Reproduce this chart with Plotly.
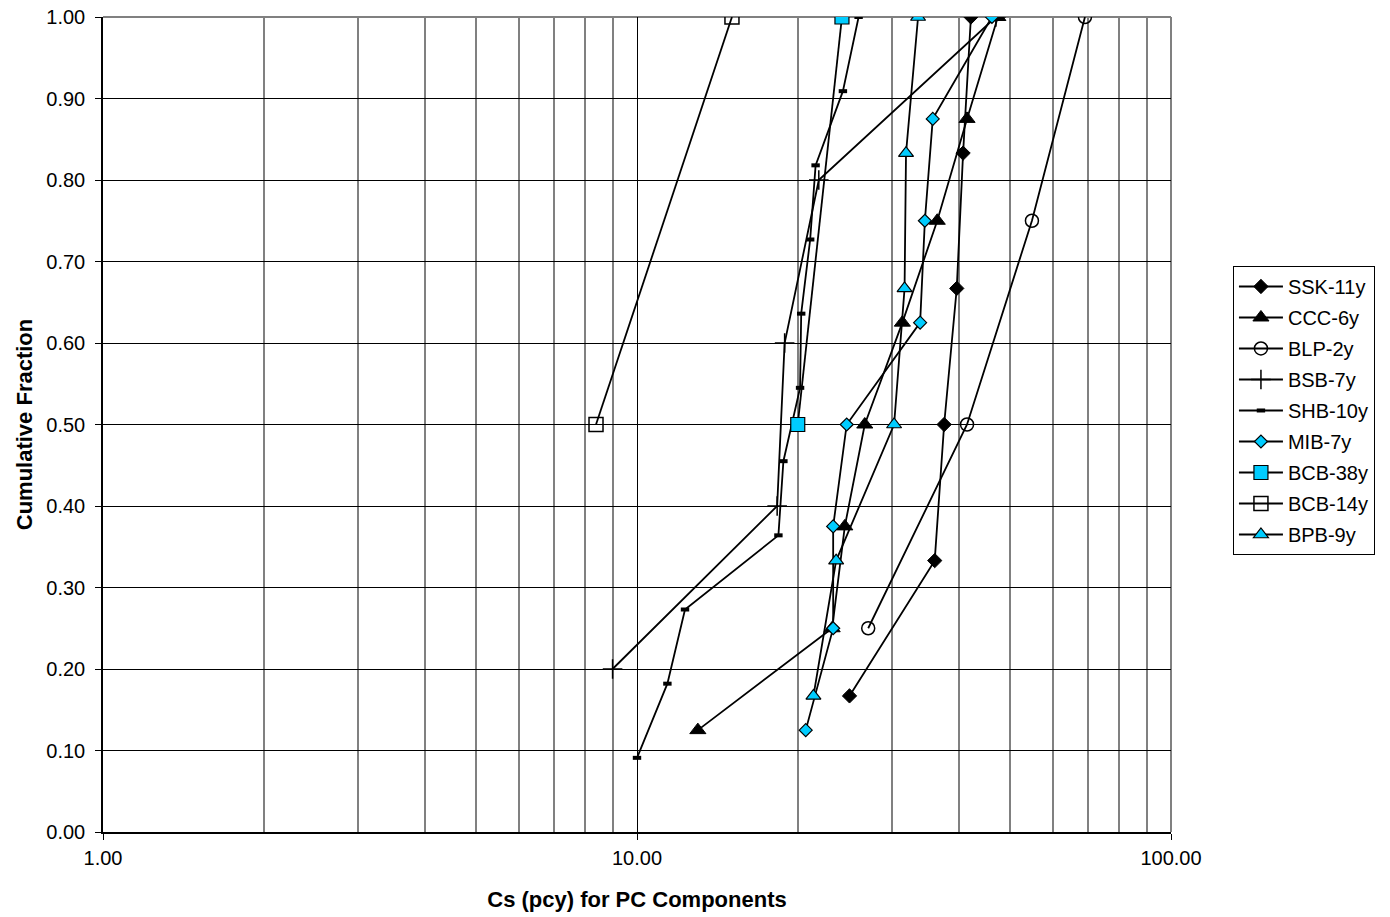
import plotly.graph_objects as go

# ---- data ----
ssk_x = [25.0, 36.1, 37.6, 39.7, 40.8, 42.2]
ssk_y = [0.167, 0.333, 0.500, 0.667, 0.833, 1.000]

ccc_x = [13.0, 23.2, 24.5, 26.7, 31.4, 36.5, 41.5, 47.4]
ccc_y = [0.125, 0.250, 0.375, 0.500, 0.625, 0.750, 0.875, 1.000]

blp_x = [27.1, 41.5, 54.9, 69.0]
blp_y = [0.25, 0.50, 0.75, 1.00]

bsb_x = [9.0, 18.3, 18.9, 21.9, 47.0]
bsb_y = [0.2, 0.4, 0.6, 0.8, 1.0]

shb_x = [10.0, 11.4, 12.3, 18.4, 18.8, 20.2, 20.3, 21.1, 21.6, 24.3, 26.0]
shb_y = [0.091, 0.182, 0.273, 0.364, 0.455, 0.545, 0.636, 0.727, 0.818, 0.909, 1.000]

mib_x = [20.7, 23.3, 23.3, 24.7, 33.9, 34.6, 35.8, 46.2]
mib_y = [0.125, 0.250, 0.375, 0.500, 0.625, 0.750, 0.875, 1.000]

bcb38_x = [20.0, 24.2]
bcb38_y = [0.5, 1.0]

bcb14_x = [8.38, 15.06]
bcb14_y = [0.5, 1.0]

bpb_x = [21.4, 23.6, 30.3, 31.7, 31.9, 33.6]
bpb_y = [0.167, 0.333, 0.500, 0.667, 0.833, 1.000]

x_tickvals = [1, 10, 100]
x_ticktext = ["1.00", "10.00", "100.00"]
x_minor = [2, 3, 4, 5, 6, 7, 8, 9, 20, 30, 40, 50, 60, 70, 80, 90]

CYAN = "#00CCFF"
FONT = "Liberation Sans, Arial, sans-serif"

series = [
    ("SSK-11y", ssk_x, ssk_y, dict(symbol="diamond", size=11, color="black", line=dict(color="black", width=1))),
    ("CCC-6y", ccc_x, ccc_y, dict(symbol="triangle-up", size=14, color="black", line=dict(color="black", width=1))),
    ("BLP-2y", blp_x, blp_y, dict(symbol="circle-open", size=13, color="black", line=dict(color="black", width=1.5))),
    ("BSB-7y", bsb_x, bsb_y, dict(symbol="cross-thin", size=14, color="black", line=dict(color="black", width=1.5))),
    ("SHB-10y", shb_x, shb_y, dict(symbol="line-ew", size=6, color="black", line=dict(color="black", width=4))),
    ("MIB-7y", mib_x, mib_y, dict(symbol="diamond", size=10, color=CYAN, line=dict(color="black", width=1.2))),
    ("BCB-38y", bcb38_x, bcb38_y, dict(symbol="square", size=14, color=CYAN, line=dict(color="black", width=1.2))),
    ("BCB-14y", bcb14_x, bcb14_y, dict(symbol="square-open", size=14, color="black", line=dict(color="black", width=1.5))),
    ("BPB-9y", bpb_x, bpb_y, dict(symbol="triangle-up", size=13, color=CYAN, line=dict(color="black", width=1.2))),
]

fig = go.Figure()
for i, (name, xs, ys, mk) in enumerate(series):
    fig.add_trace(go.Scatter(
        x=xs, y=ys, name=name, mode="lines+markers",
        line=dict(color="black", width=1.8),
        marker=mk, legendgroup=f"g{i}",
    ))

fig.update_layout(
    width=1390, height=917,
    margin=dict(l=103, r=219, t=17, b=85),
    paper_bgcolor="white", plot_bgcolor="white",
    font=dict(family=FONT, size=20, color="black"),
    showlegend=True,
    legend=dict(
        x=1.058, xanchor="left", y=0.6945, yanchor="top",
        bordercolor="black", borderwidth=1,
        font=dict(family=FONT, size=20, color="black"),
        tracegroupgap=2, itemwidth=44,
    ),
    xaxis=dict(
        type="log", range=[0, 2], automargin=False,
        tickmode="array", tickvals=x_tickvals, ticktext=x_ticktext,
        ticks="outside", ticklen=6, tickcolor="black", tickwidth=1,
        showline=True, linecolor="black", linewidth=1.5,
        showgrid=True, gridcolor="black", gridwidth=1,
        minor=dict(tickmode="array", tickvals=x_minor, showgrid=True,
                   gridcolor="#808080", gridwidth=1.5, ticks=""),
        zeroline=False,
        title=dict(text="<b>Cs (pcy) for PC Components</b>", font=dict(size=22), standoff=24),
        ticklabelstandoff=1,
    ),
    yaxis=dict(
        range=[0, 1], dtick=0.1, tick0=0, tickformat=".2f", automargin=False,
        ticks="outside", ticklen=6, tickcolor="black", tickwidth=1,
        showline=True, linecolor="black", linewidth=1.5,
        showgrid=True, gridcolor="black", gridwidth=1,
        zeroline=False,
        title=dict(text="<b>Cumulative Fraction</b>", font=dict(size=22), standoff=8),
        ticklabelstandoff=6,
    ),
    shapes=[
        dict(type="line", xref="paper", yref="paper", x0=0, x1=1, y0=1, y1=1,
             line=dict(color="#808080", width=2), layer="between"),
        dict(type="line", xref="paper", yref="paper", x0=1, x1=1, y0=0, y1=1,
             line=dict(color="#808080", width=2), layer="between"),
    ],
)

fig.write_html("out.html")
